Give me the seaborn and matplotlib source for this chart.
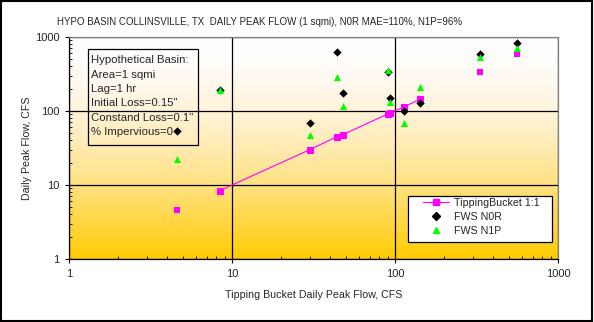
import numpy as np
import pandas as pd
import seaborn as sns
import matplotlib.pyplot as plt
from matplotlib.lines import Line2D
from matplotlib.patches import Rectangle
from matplotlib.ticker import LogLocator, FixedLocator, NullFormatter

# data
tb_flow = [4.6, 8.4, 30, 44, 48, 90, 93, 113, 142, 331, 558]
tb_11 = [4.6, 8.4, 30, 45, 48, 91, 94, 113, 144, 337, 590]
fws_n0r = [54, 195, 68, 621, 173, 340, 150, 100, 127, 590, 822]
fws_n1p = [22.5, 195, 48, 291, 118, 358, 131, 68, 213, 542, 717]
# only these points are joined by the 1:1 line
line_idx = [1, 2, 3, 4, 5, 6, 7, 8]

title = "HYPO BASIN COLLINSVILLE, TX  DAILY PEAK FLOW (1 sqmi), N0R MAE=110%, N1P=96%"
basin_info = ["Hypothetical Basin:", "Area=1 sqmi", "Lag=1 hr",
              "Initial Loss=0.15\"", "Constand Loss=0.1\"", "% Impervious=0"]

sns.set_style("white")
plt.rcParams['font.family'] = ['Liberation Sans', 'DejaVu Sans']

df = pd.DataFrame({'TB': tb_flow, 'TB11': tb_11, 'N0R': fws_n0r, 'N1P': fws_n1p})
line_df = df.iloc[line_idx]

fig = plt.figure(figsize=(5.94, 3.22), dpi=100)
ax = fig.add_axes([69 / 594, 1 - 259 / 322, 489 / 594, 222 / 322])

# background gradient, white at top to gold at bottom
t = np.linspace(0, 1, 256)
img = np.stack([np.ones_like(t), 1 - 0.2 * t ** 1.3, 1 - t ** 1.7], axis=-1).reshape(-1, 1, 3)
ax.imshow(img, extent=[0, 1, 0, 1], transform=ax.transAxes, aspect='auto', zorder=0)

ax.set_xscale('log')
ax.set_yscale('log')

ms = 4.5
sns.lineplot(data=line_df, x='TB', y='TB11', ax=ax, color='#FF00FF', lw=0.8,
             marker='s', markersize=ms, markeredgecolor='#FF00FF', sort=False, zorder=3)
sns.scatterplot(data=df.drop(df.index[line_idx]), x='TB', y='TB11', ax=ax, color='#FF00FF',
                marker='s', s=ms ** 2 * 1.1, edgecolor='#FF00FF', linewidth=0, zorder=3)
sns.scatterplot(data=df, x='TB', y='N0R', ax=ax, color='black', marker='D',
                s=ms ** 2 * 0.9, edgecolor='black', linewidth=0, zorder=4)
sns.scatterplot(data=df, x='TB', y='N1P', ax=ax, color='#00FF00', marker='^',
                s=ms ** 2 * 1.3, edgecolor='#00FF00', linewidth=0, zorder=5)

ax.set_xlim(1, 1000)
ax.set_ylim(1, 1000)
for a in (ax.xaxis, ax.yaxis):
    a.set_major_locator(FixedLocator([1, 10, 100, 1000]))
    a.set_minor_locator(LogLocator(base=10, subs=np.arange(2, 10)))
    a.set_minor_formatter(NullFormatter())
ax.set_xticklabels(['1', '10', '100', '1000'])
ax.set_yticklabels(['1', '10', '100', '1000'])
ax.tick_params(which='major', direction='out', length=3, width=0.8, color='black',
               labelsize=8, pad=4, bottom=True, left=True)
ax.tick_params(which='minor', direction='in', length=2, width=0.6, color='black',
               bottom=True, left=True)

ax.grid(True, which='major', color='black', lw=0.9, zorder=1)
ax.set_axisbelow(True)
for s in ['left', 'bottom']:
    ax.spines[s].set_color('black')
    ax.spines[s].set_linewidth(0.9)
for s in ['top', 'right']:
    ax.spines[s].set_color('#808080')
    ax.spines[s].set_linewidth(0.9)

ax.set_xlabel("Tipping Bucket Daily Peak Flow, CFS", fontsize=7.7, labelpad=8)
ax.set_ylabel("Daily Peak Flow, CFS", fontsize=7.7, labelpad=2)

fig.text(260 / 594, 1 - 22 / 322, title, fontsize=7, ha='center', va='center')

# info box
ax.add_patch(Rectangle((0.039, 0.513), 0.2249, 0.4308, transform=ax.transAxes,
                       facecolor='none', edgecolor='black', lw=0.9, zorder=6))
ax.text(0.046, 0.917, "\n".join(basin_info), transform=ax.transAxes, fontsize=8.2,
        va='top', ha='left', linespacing=1.54, zorder=6)

handles = [
    Line2D([], [], color='#FF00FF', lw=0.8, marker='s', markersize=ms, markeredgecolor='#FF00FF'),
    Line2D([], [], color='black', lw=0, marker='D', markersize=ms * 0.9),
    Line2D([], [], color='#00FF00', lw=0, marker='^', markersize=ms * 1.1),
]
labels = ["TippingBucket 1:1", "FWS N0R", "FWS N1P"]
leg = ax.legend(handles, labels, loc='upper left', bbox_to_anchor=(0.7233, 0.275),
                fontsize=7.7, frameon=False, borderpad=0, labelspacing=0.38,
                handlelength=2.5, handletextpad=0.4, borderaxespad=0)
leg.set_zorder(7)
ax.add_patch(Rectangle((0.6926, 0.0766), 0.2944, 0.2072, transform=ax.transAxes,
                       facecolor='white', edgecolor='black', lw=0.9, zorder=6.5))

# outer border of the chart
fig.patches.append(Rectangle((0.001, 0.002), 0.995, 0.996, transform=fig.transFigure,
                             facecolor='none', edgecolor='black', lw=1.5))

fig.savefig("out.png", dpi=100)
